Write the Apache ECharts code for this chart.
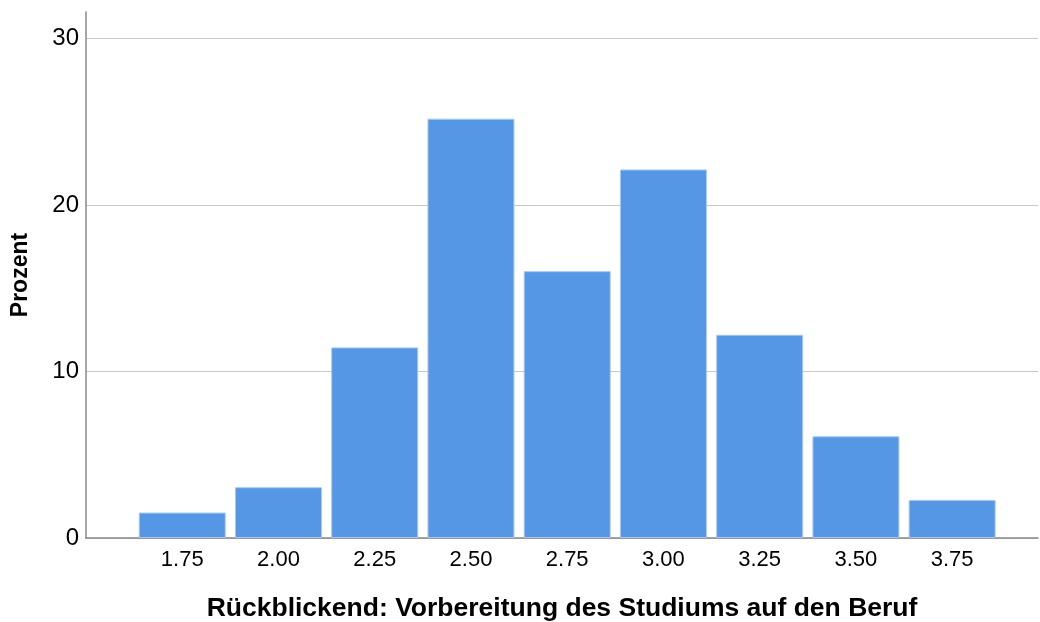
<!DOCTYPE html>
<html>
<head>
<meta charset="utf-8">
<script src="https://cdn.jsdelivr.net/npm/echarts@6/dist/echarts.min.js"></script>
<style>html,body{margin:0;padding:0;background:#fff;}#c{width:1040px;height:622px;}</style>
</head>
<body>
<div id="c"></div>
<script>
const categories = [1.75, 2.00, 2.25, 2.50, 2.75, 3.00, 3.25, 3.50, 3.75];
const percents = [1.53, 3.05, 11.45, 25.19, 16.03, 22.14, 12.21, 6.11, 2.29];
const yTicks = [0, 10, 20, 30];
const xTitle = 'Rückblickend: Vorbereitung des Studiums auf den Beruf';
const yTitle = 'Prozent';

const chart = echarts.init(document.getElementById('c'), null, {renderer: 'canvas'});
const font = 'Liberation Sans, Arial, sans-serif';
chart.setOption({
  animation: false,
  backgroundColor: '#fff',
  grid: {left: 86, right: 2, top: 12, bottom: 84, outerBoundsMode: 'none', containLabel: false},
  xAxis: {
    type: 'value', min: 1.5, max: 3.973, interval: 0.25,
    name: xTitle, nameLocation: 'middle', nameGap: 57,
    nameTextStyle: {fontFamily: font, fontWeight: 'bold', fontSize: 26.5, color: '#000'},
    axisLine: {show: true, lineStyle: {color: '#888', width: 1.5}},
    axisTick: {show: false},
    splitLine: {show: false},
    axisLabel: {
      fontFamily: font, fontSize: 22, color: '#000', margin: 11,
      showMinLabel: false, showMaxLabel: false,
      formatter: v => categories.some(c => Math.abs(c - v) < 1e-6) ? v.toFixed(2) : ''
    }
  },
  yAxis: {
    type: 'value', min: 0, max: 31.6, interval: 10,
    name: yTitle, nameLocation: 'middle', nameGap: 54, nameRotate: 90,
    nameTextStyle: {fontFamily: font, fontWeight: 'bold', fontSize: 23, color: '#000'},
    axisLine: {show: true, lineStyle: {color: '#888', width: 1.5}},
    axisTick: {show: false},
    splitLine: {show: true, lineStyle: {color: ['#c8c8c8', '#c8c8c8', '#c8c8c8', '#c8c8c8', 'rgba(0,0,0,0)'], width: 1.2}},
    axisLabel: {
      fontFamily: font, fontSize: 24, color: '#000', margin: 7,
      showMaxLabel: false, padding: [4, 0, 0, 0],
      formatter: v => yTicks.indexOf(v) >= 0 ? String(v) : ''
    }
  },
  series: [{
    type: 'bar',
    data: categories.map((c, i) => [c, percents[i]]),
    barWidth: 87,
    itemStyle: {color: '#5596e5', borderColor: '#a8c8f2', borderWidth: 1}
  }]
});
</script>
</body>
</html>
